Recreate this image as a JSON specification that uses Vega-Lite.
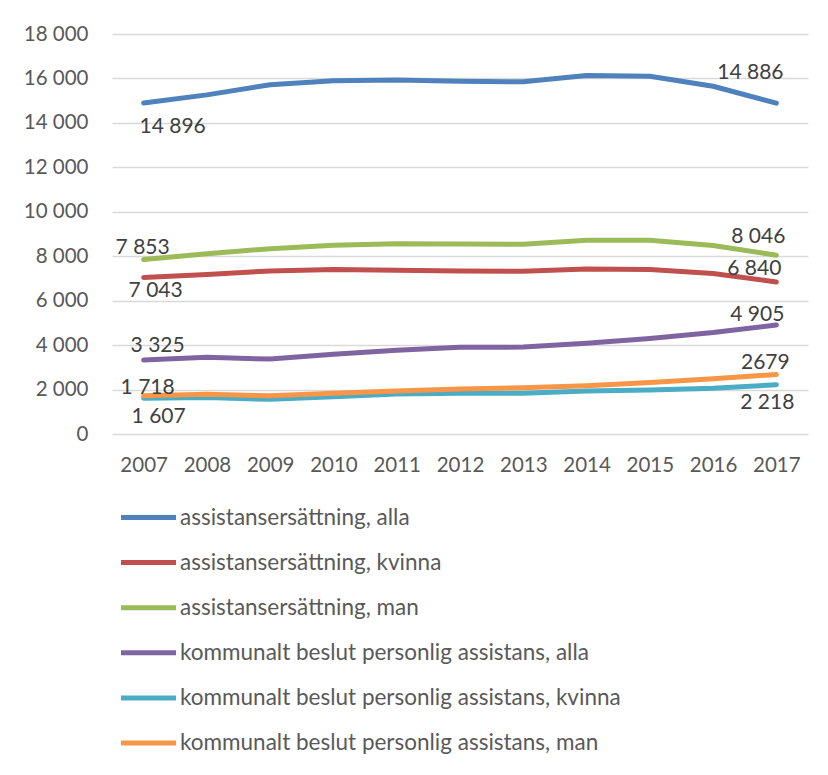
{
  "$schema": "https://vega.github.io/schema/vega-lite/v6.json",
  "width": 696,
  "height": 400,
  "autosize": {"type": "none"},
  "padding": {"left": 112, "top": 34, "right": 20, "bottom": 341},
  "background": "white",
  "config": {
    "view": {"stroke": null},
    "font": "Lato",
    "axis": {"labelFont": "Lato", "labelColor": "#595959", "labelFontSize": 20.5},
    "legend": {"labelFont": "Lato"},
    "text": {"font": "Lato", "fontSize": 21, "color": "#404040"}
  },
  "datasets": {
    "main": [
      {"s": "assistansersättning, alla", "year": "2007", "v": 14896},
      {"s": "assistansersättning, alla", "year": "2008", "v": 15260},
      {"s": "assistansersättning, alla", "year": "2009", "v": 15720},
      {"s": "assistansersättning, alla", "year": "2010", "v": 15900},
      {"s": "assistansersättning, alla", "year": "2011", "v": 15930},
      {"s": "assistansersättning, alla", "year": "2012", "v": 15870},
      {"s": "assistansersättning, alla", "year": "2013", "v": 15850},
      {"s": "assistansersättning, alla", "year": "2014", "v": 16130},
      {"s": "assistansersättning, alla", "year": "2015", "v": 16100},
      {"s": "assistansersättning, alla", "year": "2016", "v": 15650},
      {"s": "assistansersättning, alla", "year": "2017", "v": 14886},
      {"s": "assistansersättning, kvinna", "year": "2007", "v": 7043},
      {"s": "assistansersättning, kvinna", "year": "2008", "v": 7180},
      {"s": "assistansersättning, kvinna", "year": "2009", "v": 7340},
      {"s": "assistansersättning, kvinna", "year": "2010", "v": 7400},
      {"s": "assistansersättning, kvinna", "year": "2011", "v": 7370},
      {"s": "assistansersättning, kvinna", "year": "2012", "v": 7340},
      {"s": "assistansersättning, kvinna", "year": "2013", "v": 7320},
      {"s": "assistansersättning, kvinna", "year": "2014", "v": 7430},
      {"s": "assistansersättning, kvinna", "year": "2015", "v": 7400},
      {"s": "assistansersättning, kvinna", "year": "2016", "v": 7220},
      {"s": "assistansersättning, kvinna", "year": "2017", "v": 6840},
      {"s": "assistansersättning, man", "year": "2007", "v": 7853},
      {"s": "assistansersättning, man", "year": "2008", "v": 8110},
      {"s": "assistansersättning, man", "year": "2009", "v": 8340},
      {"s": "assistansersättning, man", "year": "2010", "v": 8490},
      {"s": "assistansersättning, man", "year": "2011", "v": 8560},
      {"s": "assistansersättning, man", "year": "2012", "v": 8550},
      {"s": "assistansersättning, man", "year": "2013", "v": 8535},
      {"s": "assistansersättning, man", "year": "2014", "v": 8715},
      {"s": "assistansersättning, man", "year": "2015", "v": 8715},
      {"s": "assistansersättning, man", "year": "2016", "v": 8480},
      {"s": "assistansersättning, man", "year": "2017", "v": 8046},
      {"s": "kommunalt beslut personlig assistans, alla", "year": "2007", "v": 3325},
      {"s": "kommunalt beslut personlig assistans, alla", "year": "2008", "v": 3450},
      {"s": "kommunalt beslut personlig assistans, alla", "year": "2009", "v": 3370},
      {"s": "kommunalt beslut personlig assistans, alla", "year": "2010", "v": 3590},
      {"s": "kommunalt beslut personlig assistans, alla", "year": "2011", "v": 3770},
      {"s": "kommunalt beslut personlig assistans, alla", "year": "2012", "v": 3900},
      {"s": "kommunalt beslut personlig assistans, alla", "year": "2013", "v": 3910},
      {"s": "kommunalt beslut personlig assistans, alla", "year": "2014", "v": 4080},
      {"s": "kommunalt beslut personlig assistans, alla", "year": "2015", "v": 4300},
      {"s": "kommunalt beslut personlig assistans, alla", "year": "2016", "v": 4570},
      {"s": "kommunalt beslut personlig assistans, alla", "year": "2017", "v": 4905},
      {"s": "kommunalt beslut personlig assistans, kvinna", "year": "2007", "v": 1607},
      {"s": "kommunalt beslut personlig assistans, kvinna", "year": "2008", "v": 1640},
      {"s": "kommunalt beslut personlig assistans, kvinna", "year": "2009", "v": 1560},
      {"s": "kommunalt beslut personlig assistans, kvinna", "year": "2010", "v": 1680},
      {"s": "kommunalt beslut personlig assistans, kvinna", "year": "2011", "v": 1800},
      {"s": "kommunalt beslut personlig assistans, kvinna", "year": "2012", "v": 1830},
      {"s": "kommunalt beslut personlig assistans, kvinna", "year": "2013", "v": 1830},
      {"s": "kommunalt beslut personlig assistans, kvinna", "year": "2014", "v": 1930},
      {"s": "kommunalt beslut personlig assistans, kvinna", "year": "2015", "v": 1980},
      {"s": "kommunalt beslut personlig assistans, kvinna", "year": "2016", "v": 2060},
      {"s": "kommunalt beslut personlig assistans, kvinna", "year": "2017", "v": 2218},
      {"s": "kommunalt beslut personlig assistans, man", "year": "2007", "v": 1718},
      {"s": "kommunalt beslut personlig assistans, man", "year": "2008", "v": 1790},
      {"s": "kommunalt beslut personlig assistans, man", "year": "2009", "v": 1720},
      {"s": "kommunalt beslut personlig assistans, man", "year": "2010", "v": 1830},
      {"s": "kommunalt beslut personlig assistans, man", "year": "2011", "v": 1930},
      {"s": "kommunalt beslut personlig assistans, man", "year": "2012", "v": 2020},
      {"s": "kommunalt beslut personlig assistans, man", "year": "2013", "v": 2080},
      {"s": "kommunalt beslut personlig assistans, man", "year": "2014", "v": 2170},
      {"s": "kommunalt beslut personlig assistans, man", "year": "2015", "v": 2320},
      {"s": "kommunalt beslut personlig assistans, man", "year": "2016", "v": 2485},
      {"s": "kommunalt beslut personlig assistans, man", "year": "2017", "v": 2679}
    ],
    "labels": [
      {"k": "A0", "year": "2007", "v": 14896, "t": "14 896"},
      {"k": "A1", "year": "2017", "v": 14886, "t": "14 886"},
      {"k": "B0", "year": "2007", "v": 7043, "t": "7 043"},
      {"k": "B1", "year": "2017", "v": 6840, "t": "6 840"},
      {"k": "C0", "year": "2007", "v": 7853, "t": "7 853"},
      {"k": "C1", "year": "2017", "v": 8046, "t": "8 046"},
      {"k": "D0", "year": "2007", "v": 3325, "t": "3 325"},
      {"k": "D1", "year": "2017", "v": 4905, "t": "4 905"},
      {"k": "E0", "year": "2007", "v": 1607, "t": "1 607"},
      {"k": "E1", "year": "2017", "v": 2218, "t": "2 218"},
      {"k": "F0", "year": "2007", "v": 1718, "t": "1 718"},
      {"k": "F1", "year": "2017", "v": 2679, "t": "2679"}
    ]
  },
  "encoding": {
    "x": {
      "field": "year", "type": "ordinal",
      "scale": {"type": "point", "padding": 0.5},
      "axis": {"title": null, "labelAngle": 0, "domain": false, "ticks": false, "labelPadding": 21}
    },
    "y": {
      "field": "v", "type": "quantitative",
      "scale": {"domain": [0, 18000], "nice": false},
      "axis": {
        "title": null, "values": [0, 2000, 4000, 6000, 8000, 10000, 12000, 14000, 16000, 18000],
        "labelExpr": "replace(format(datum.value, ','), ',', ' ')",
        "domain": false, "ticks": false, "labelPadding": 24,
        "gridColor": "#d9d9d9", "gridWidth": 1.5
      }
    }
  },
  "layer": [
    {
      "data": {"name": "main"},
      "mark": {"type": "line", "strokeWidth": 5, "strokeCap": "round", "strokeJoin": "round", "interpolate": "linear"},
      "encoding": {
        "color": {
          "field": "s", "type": "nominal",
          "scale": {
            "domain": ["assistansersättning, alla", "assistansersättning, kvinna", "assistansersättning, man", "kommunalt beslut personlig assistans, alla", "kommunalt beslut personlig assistans, kvinna", "kommunalt beslut personlig assistans, man"],
            "range": ["#4f81bd", "#c0504d", "#9bbb59", "#8064a2", "#4bacc6", "#f79646"]
          },
          "legend": {
            "title": null, "orient": "none", "direction": "vertical",
            "legendX": 23, "legendY": 470, "padding": 0,
            "symbolType": "M-2.5,0H2.5", "symbolSize": 484, "symbolStrokeWidth": 5,
            "symbolFillColor": null,
            "labelFontSize": 22.5, "labelColor": "#595959", "labelOffset": 18,
            "rowPadding": 20.1, "labelLimit": 600
          }
        }
      }
    },
    {"data": {"name": "labels"}, "transform": [{"filter": "datum.k == 'A0'"}], "mark": {"type": "text", "dx": 29, "dy": 24}, "encoding": {"text": {"field": "t"}}},
    {"data": {"name": "labels"}, "transform": [{"filter": "datum.k == 'A1'"}], "mark": {"type": "text", "dx": -26, "dy": -30}, "encoding": {"text": {"field": "t"}}},
    {"data": {"name": "labels"}, "transform": [{"filter": "datum.k == 'B0'"}], "mark": {"type": "text", "dx": 12, "dy": 14}, "encoding": {"text": {"field": "t"}}},
    {"data": {"name": "labels"}, "transform": [{"filter": "datum.k == 'B1'"}], "mark": {"type": "text", "dx": -22, "dy": -13}, "encoding": {"text": {"field": "t"}}},
    {"data": {"name": "labels"}, "transform": [{"filter": "datum.k == 'C0'"}], "mark": {"type": "text", "dx": -1, "dy": -11}, "encoding": {"text": {"field": "t"}}},
    {"data": {"name": "labels"}, "transform": [{"filter": "datum.k == 'C1'"}], "mark": {"type": "text", "dx": -18, "dy": -18}, "encoding": {"text": {"field": "t"}}},
    {"data": {"name": "labels"}, "transform": [{"filter": "datum.k == 'D0'"}], "mark": {"type": "text", "dx": 14, "dy": -14}, "encoding": {"text": {"field": "t"}}},
    {"data": {"name": "labels"}, "transform": [{"filter": "datum.k == 'D1'"}], "mark": {"type": "text", "dx": -19, "dy": -10}, "encoding": {"text": {"field": "t"}}},
    {"data": {"name": "labels"}, "transform": [{"filter": "datum.k == 'E0'"}], "mark": {"type": "text", "dx": 15, "dy": 19}, "encoding": {"text": {"field": "t"}}},
    {"data": {"name": "labels"}, "transform": [{"filter": "datum.k == 'E1'"}], "mark": {"type": "text", "dx": -9, "dy": 18}, "encoding": {"text": {"field": "t"}}},
    {"data": {"name": "labels"}, "transform": [{"filter": "datum.k == 'F0'"}], "mark": {"type": "text", "dx": 4, "dy": -8}, "encoding": {"text": {"field": "t"}}},
    {"data": {"name": "labels"}, "transform": [{"filter": "datum.k == 'F1'"}], "mark": {"type": "text", "dx": -11, "dy": -11}, "encoding": {"text": {"field": "t"}}}
  ]
}
